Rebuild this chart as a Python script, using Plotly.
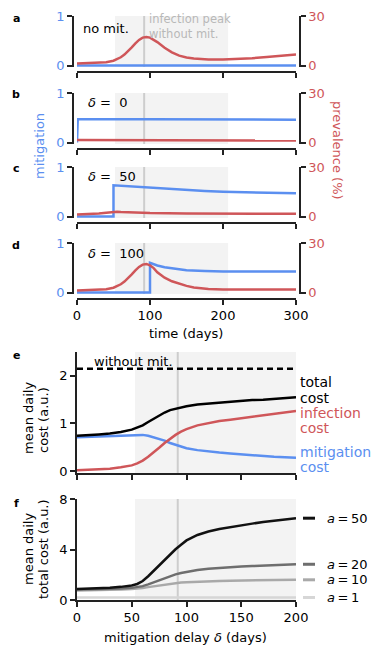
import plotly.graph_objects as go

    # colours and fonts
BLUE = "#5b8ff0"
RED = "#cf5659"
FONT = "DejaVu Sans"
SHADE = "#f3f3f3"
PEAK = "#cdcdcd"
    # the page body has an 8px margin, so the figure is drawn inside it
OFF = 8
W, H = 385 - 2 * OFF, 658 - 2 * OFF

    # panels a-d : time course (days), mitigation (0-1) and prevalence (%)
t_a = [0, 10, 20, 30, 40, 50, 55, 60, 65, 70, 75, 80, 85, 90, 95, 100, 105, 110,
       120, 130, 140, 150, 160, 180, 200, 220, 240, 260, 280, 300]
prev_a = [1.2, 1.3, 1.4, 1.6, 2.0, 2.9, 3.8, 5.0, 6.6, 8.6, 11.0, 13.4, 15.5, 16.9, 17.3,
          16.9, 15.8, 14.2, 10.8, 8.0, 6.0, 4.9, 4.3, 3.7, 3.6, 3.9, 4.4, 5.2, 6.0, 6.6]
t_mit_a = [0, 300]
mit_a = [0, 0]

t_mit_b = [0, 1, 100, 200, 300]
mit_b = [0, 0.47, 0.47, 0.465, 0.46]
t_prev_b = [0, 100, 200, 300]
prev_b = [1.5, 1.4, 1.3, 1.2]

t_mit_c = [0, 50, 50, 60, 80, 100, 125, 150, 175, 200, 250, 300]
mit_c = [0, 0, 0.63, 0.62, 0.60, 0.58, 0.555, 0.535, 0.515, 0.50, 0.485, 0.47]
t_prev_c = [0, 10, 20, 30, 40, 50, 55, 60, 80, 100, 150, 200, 250, 300]
prev_c = [1.2, 1.3, 1.5, 1.8, 2.3, 3.0, 2.9, 2.7, 2.3, 2.1, 1.9, 1.7, 1.6, 1.6]

t_mit_d = [0, 100, 100, 105, 110, 120, 130, 140, 150, 175, 200, 250, 300]
mit_d = [0, 0, 0.60, 0.57, 0.545, 0.51, 0.485, 0.465, 0.45, 0.435, 0.425, 0.425, 0.425]
t_prev_d = [0, 10, 20, 30, 40, 50, 55, 60, 65, 70, 75, 80, 85, 90, 95, 100, 105, 110,
            120, 130, 140, 150, 160, 180, 200, 250, 300]
prev_d = [1.2, 1.3, 1.4, 1.6, 2.0, 2.9, 3.8, 5.0, 6.6, 8.6, 11.0, 13.4, 15.5, 16.9, 17.3,
          16.4, 14.8, 12.3, 9.0, 6.8, 5.3, 4.0, 3.0, 2.2, 1.9, 1.8, 1.8]

panel_text = ["no mit.", "<i>δ</i> =  0", "<i>δ</i> =  50", "<i>δ</i> =  100"]

    # panel e and f : cost vs mitigation delay
delay = [0, 10, 20, 30, 40, 50, 55, 60, 65, 70, 75, 80, 85, 90, 95, 100,
         110, 120, 130, 140, 150, 160, 170, 180, 190, 200]
total_cost = [0.74, 0.75, 0.77, 0.79, 0.82, 0.87, 0.91, 0.96, 1.03, 1.10, 1.17, 1.23, 1.28,
              1.31, 1.34, 1.36, 1.40, 1.42, 1.44, 1.46, 1.48, 1.49, 1.50, 1.52, 1.53, 1.55]
infection_cost = [0.02, 0.03, 0.04, 0.05, 0.08, 0.12, 0.16, 0.22, 0.30, 0.39, 0.49, 0.59, 0.68,
                  0.76, 0.83, 0.88, 0.96, 1.01, 1.05, 1.08, 1.11, 1.14, 1.17, 1.20, 1.23, 1.26]
mitigation_cost = [0.71, 0.72, 0.73, 0.74, 0.75, 0.76, 0.77, 0.76, 0.74, 0.71, 0.68, 0.64, 0.59,
                   0.55, 0.51, 0.48, 0.44, 0.41, 0.39, 0.37, 0.35, 0.33, 0.32, 0.30, 0.29, 0.28]
no_mit_cost = 2.15

a_values = [50, 20, 10, 1]
a_colors = ["#111111", "#6e6e6e", "#a9a9a9", "#d6d6d6"]
cost_a50 = [0.88, 0.90, 0.93, 0.97, 1.04, 1.15, 1.27, 1.50, 1.88, 2.30, 2.78, 3.22, 3.62,
            4.02, 4.38, 4.72, 5.15, 5.42, 5.62, 5.78, 5.92, 6.05, 6.17, 6.28, 6.38, 6.48]
cost_a20 = [0.83, 0.84, 0.86, 0.88, 0.91, 0.96, 1.01, 1.10, 1.24, 1.40, 1.57, 1.74, 1.89,
            2.03, 2.14, 2.23, 2.38, 2.48, 2.55, 2.60, 2.65, 2.69, 2.73, 2.77, 2.80, 2.83]
cost_a10 = [0.75, 0.76, 0.78, 0.80, 0.83, 0.87, 0.90, 0.95, 1.02, 1.09, 1.16, 1.23, 1.29,
            1.34, 1.38, 1.41, 1.46, 1.49, 1.51, 1.53, 1.55, 1.56, 1.57, 1.58, 1.59, 1.60]
cost_a1 = [0.20, 0.20, 0.20, 0.20, 0.20, 0.20, 0.20, 0.20, 0.20, 0.20, 0.20, 0.20, 0.20,
           0.20, 0.20, 0.20, 0.20, 0.20, 0.20, 0.20, 0.20, 0.20, 0.20, 0.20, 0.20, 0.20]
cost_by_a = [cost_a50, cost_a20, cost_a10, cost_a1]

peak_day = 92
shade_time = [52, 207]
shade_delay = [53, 200]


    # helpers: window pixel -> paper fraction
def px_y(p):
    return 1 - (p - OFF) / H


def px_x(p):
    return (p - OFF) / W


def nm(n):
    return "" if n == 1 else str(n)


annots = []


def note(text, x, y, size=13, color="black", xanchor="center", yref="paper", **kw):
    # y is a window pixel unless yref points to an axis
    annots.append(dict(text=text, x=px_x(x), y=px_y(y) if yref == "paper" else y,
                       xref="paper", yref=yref, xanchor=xanchor, yanchor="middle",
                       showarrow=False, font=dict(size=size, color=color), **kw))


fig = go.Figure()
layout = dict(width=W, height=H, margin=dict(l=0, r=0, t=0, b=0, autoexpand=False),
              plot_bgcolor="white", paper_bgcolor="white", showlegend=False,
              font=dict(family=FONT, size=13, color="black"))
shapes = []

axis_line = dict(showline=True, linecolor="#222222", linewidth=1.5, showgrid=False,
                 zeroline=False, ticks="outside", ticklen=5, tickwidth=1.5, tickcolor="#222222",
                 automargin=False)

    # panels a-d
tops = [16, 93, 167, 243]
mits = [(t_mit_a, mit_a), (t_mit_b, mit_b), (t_mit_c, mit_c), (t_mit_d, mit_d)]
prevs = [(t_a, prev_a), (t_prev_b, prev_b), (t_prev_c, prev_c), (t_prev_d, prev_d)]
for i in range(4):
    top = tops[i]
    bot = top + 51
    xa, yl, yr = nm(i + 1), nm(2 * i + 1), nm(2 * i + 2)
    layout["xaxis" + xa] = dict(axis_line, domain=[px_x(77), px_x(296)], range=[0, 300],
                                anchor="free", position=px_y(bot + 5),
                                tickvals=[0, 100, 200, 300], showticklabels=(i == 3),
                                tickfont=dict(size=13))
    layout["yaxis" + yl] = dict(axis_line, domain=[px_y(bot), px_y(top)], range=[-0.03, 1],
                                anchor="free", position=px_x(73), tickvals=[0, 1],
                                tickfont=dict(color=BLUE, size=13))
    layout["yaxis" + yr] = dict(axis_line, range=[-0.9, 30], overlaying="y" + yl,
                                side="right", anchor="free", position=px_x(300),
                                tickvals=[0, 30], tickfont=dict(color=RED, size=13))
    fig.add_trace(go.Scatter(x=mits[i][0], y=mits[i][1], mode="lines",
                             line=dict(color=BLUE, width=2.5),
                             xaxis="x" + xa, yaxis="y" + yl))
    fig.add_trace(go.Scatter(x=prevs[i][0], y=prevs[i][1], mode="lines",
                             line=dict(color=RED, width=2.5),
                             xaxis="x" + xa, yaxis="y" + yr))
    shapes.append(dict(type="rect", xref="x" + xa, yref="y%s domain" % yl,
                       x0=shade_time[0], x1=shade_time[1], y0=0, y1=1,
                       fillcolor=SHADE, line_width=0, layer="below"))
    shapes.append(dict(type="line", xref="x" + xa, yref="y%s domain" % yl,
                       x0=peak_day, x1=peak_day, y0=0, y1=1,
                       line=dict(color=PEAK, width=2), layer="below"))
    note("<b>%s</b>" % "abcd"[i], 16, top + 2, size=11)
    note(panel_text[i], 81 if i == 0 else 86, top + (12 if i == 0 else 10), xanchor="left")

note("infection peak<br>without mit.", 147, 27, size=11.5, color="#b8b8b8",
     xanchor="left", align="left")
note("time (days)", 186, 334)
note("mitigation", 39, 146, color=BLUE, textangle=-90)
note("prevalence (%)", 338, 150, color=RED, textangle=90)

    # panel e
layout["xaxis5"] = dict(axis_line, domain=[px_x(77), px_x(296)], range=[0, 200],
                        anchor="y9", tickvals=[0, 50, 100, 150, 200], showticklabels=False)
layout["yaxis9"] = dict(axis_line, domain=[px_y(473), px_y(352)], range=[-0.04, 2.5],
                        anchor="x5", tickvals=[0, 1, 2], tickfont=dict(size=13))
for vals, col in [(mitigation_cost, BLUE), (infection_cost, RED), (total_cost, "black")]:
    fig.add_trace(go.Scatter(x=delay, y=vals, mode="lines", line=dict(color=col, width=2.5),
                             xaxis="x5", yaxis="y9"))
fig.add_trace(go.Scatter(x=[delay[0], delay[-1]], y=[no_mit_cost, no_mit_cost], mode="lines",
                         line=dict(color="black", width=2.5, dash="6px,4px"),
                         xaxis="x5", yaxis="y9"))
shapes.append(dict(type="rect", xref="x5", yref="y9 domain", x0=shade_delay[0],
                   x1=shade_delay[1], y0=0, y1=1, fillcolor=SHADE, line_width=0, layer="below"))
shapes.append(dict(type="line", xref="x5", yref="y9 domain", x0=peak_day, x1=peak_day,
                   y0=0, y1=1, line=dict(color=PEAK, width=2), layer="below"))
note("without mit.", 92, 362, xanchor="left")
for txt, ypx, col in [("total", 382, "black"), ("cost", 398, "black"),
                      ("infection", 413, RED), ("cost", 428, RED),
                      ("mitigation", 452, BLUE), ("cost", 467, BLUE)]:
    note(txt, 298, ypx, size=14, color=col, xanchor="left")
note("<b>e</b>", 16, 356, size=11)
note("mean daily", 28, 418, textangle=-90)
note("cost (a.u.)", 43, 420, textangle=-90)

    # panel f
layout["xaxis6"] = dict(axis_line, domain=[px_x(77), px_x(296)], range=[0, 200],
                        anchor="y10", tickvals=[0, 50, 100, 150, 200], tickfont=dict(size=13))
layout["yaxis10"] = dict(axis_line, domain=[px_y(600), px_y(499)], range=[0, 8],
                         anchor="x6", tickvals=[0, 4, 8], tickfont=dict(size=13))
for vals, col in list(zip(cost_by_a, a_colors))[::-1]:
    fig.add_trace(go.Scatter(x=delay, y=vals, mode="lines", line=dict(color=col, width=2.5),
                             xaxis="x6", yaxis="y10"))
shapes.append(dict(type="rect", xref="x6", yref="y10 domain", x0=shade_delay[0],
                   x1=shade_delay[1], y0=0, y1=1, fillcolor=SHADE, line_width=0, layer="below"))
shapes.append(dict(type="line", xref="x6", yref="y10 domain", x0=peak_day, x1=peak_day,
                   y0=0, y1=1, line=dict(color=PEAK, width=2), layer="below"))
for a, vals, col in zip(a_values, cost_by_a, a_colors):
    shapes.append(dict(type="line", xref="paper", yref="y10", x0=px_x(303), x1=px_x(315),
                       y0=vals[-1], y1=vals[-1], line=dict(color=col, width=3)))
    note("<i>a</i>\u2009=\u2009%d" % a, 325, vals[-1], xanchor="left", yref="y10")
note("<b>f</b>", 16, 503, size=11)
note("mean daily", 28, 549, textangle=-90)
note("total cost (a.u.)", 43, 549, textangle=-90)
note("mitigation delay <i>δ</i> (days)", 185, 637)

layout["shapes"] = shapes
layout["annotations"] = annots
fig.update_layout(**layout)

fig.write_html("out.html")
